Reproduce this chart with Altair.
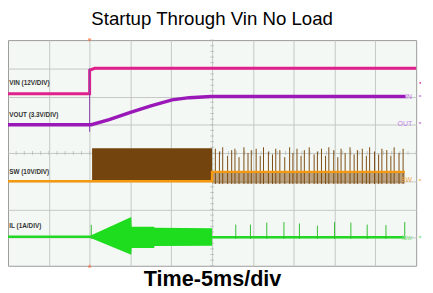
import altair as alt
import pandas as pd

TITLE = "Startup Through Vin No Load"
XLABEL = "Time-5ms/div"

# time in ms (5 ms/div, trigger at 0); vertical in screen divisions (0..8)
grid_t = [-5, 0, 5, 10, 15, 20, 25, 30, 35]
grid_d = [1, 2, 3, 4, 5, 6, 7]

vin_t = [-10, 0, 0, 0.6, 40]
vin_y = [6.1, 6.1, 6.93, 7.0, 7.0]

vout_t = [-10, 0.2, 2.4, 5.0, 7.5, 10.1, 12.2, 14.9, 25.0, 38.7]
vout_y = [5.0, 5.0, 5.18, 5.44, 5.67, 5.88, 5.96, 6.0, 6.0, 6.0]

edge_t = [0]
edge_lo = [4.75]
edge_hi = [7.0]

sw_t = [-10, 15.0, 15.0, 38.6]
sw_y = [3.0, 3.0, 3.33, 3.33]
burst_t = [0.3, 15.0]
burst_lo = [3.0, 3.0]
burst_hi = [4.17, 4.17]
ripple_t = [15.0, 38.6]
ripple_lo = [2.92, 2.92]
ripple_hi = [3.36, 3.36]
sw_spike_t = [15.4, 15.9, 16.3, 16.9, 17.4, 17.8, 18.3, 18.9, 19.4, 19.8, 20.4, 20.9,
              21.3, 21.9, 22.4, 22.8, 23.3, 23.9, 24.5, 24.9, 25.4, 25.9, 26.3, 26.9,
              27.5, 27.9, 28.4, 28.9, 29.3, 29.9, 30.4, 30.8, 31.3, 31.9, 32.4, 32.8,
              33.4, 33.9, 34.3, 34.9, 35.4, 35.8, 36.4, 36.9, 37.3, 37.9, 38.4]
sw_spike_top = [4.15, 4.05, 4.2, 3.9, 4.1, 4.15, 3.85, 4.2, 4.0, 4.1, 4.15, 3.9,
                4.2, 4.05, 3.95, 4.15, 4.1, 3.85, 4.2, 4.0, 4.15, 3.9, 4.1, 4.2,
                3.95, 4.05, 4.15, 3.9, 4.2, 4.1, 3.85, 4.15, 4.0, 4.2, 3.95, 4.1,
                4.15, 3.9, 4.2, 4.05, 3.95, 4.15, 4.1, 3.9, 4.2, 4.0, 4.15]

il_t = [-10, 0.2]
il_y = [1.03, 1.03]
il_t2 = [15.0, 38.5]
il_y2 = [1.01, 1.01]
env_t = [0.2, 5.1, 5.15, 7.9, 7.95, 15.0]
env_hi = [1.08, 1.73, 1.38, 1.38, 1.35, 1.33]
env_lo = [0.98, 0.39, 0.63, 0.63, 0.70, 0.71]
il_spike_t = [0.2, 17.9, 19.7, 21.7, 23.8, 25.7, 27.9, 30.0, 32.0, 34.0, 36.3, 38.6]
il_spike_top = [1.45, 1.46, 1.46, 1.53, 1.55, 1.50, 1.42, 1.55, 1.53, 1.46, 1.44, 1.55]

left_labels = ["VIN (12V/DIV)", "VOUT (3.3V/DIV)", "SW (10V/DIV)", "IL (1A/DIV)"]
left_label_y = [6.48, 5.35, 3.31, 1.42]

right_labels = ["IN", "OUT", "SW", "Isw"]
right_label_y = [5.98, 5.04, 3.03, 1.0]
right_label_color = ["#c070e0", "#c080e8", "#f0a848", "#88e088"]

marker_y = [6.48, 5.98, 5.04, 3.0, 1.0]
marker_color = ["#e0208c", "#a030c0", "#a030c0", "#f09010", "#30d030"]
marker_text = ["•", "*", "*", "*", "*"]

xs = alt.Scale(domain=[-10, 40], nice=False, zero=False)
ys = alt.Scale(domain=[0, 8], nice=False, zero=False)
xaxis = alt.Axis(values=grid_t, grid=True, labels=False, ticks=False, domain=False,
                 title=XLABEL, titleFont="Liberation Sans", titleFontSize=22,
                 titleFontWeight="bold", titleColor="#000000", titlePadding=3,
                 gridColor="#c4c8c4", gridWidth=1)
yaxis = alt.Axis(values=grid_d, grid=True, labels=False, ticks=False, domain=False,
                 title=None, gridColor="#c4c8c4", gridWidth=1)


def X(f="t"):
    return alt.X(f"{f}:Q", scale=xs, axis=xaxis)


def Y(f="y"):
    return alt.Y(f"{f}:Q", scale=ys, axis=yaxis)


def line_df(t, y):
    return pd.DataFrame({"t": t, "y": y, "i": list(range(len(t)))})


def line(t, y, color, w):
    return alt.Chart(line_df(t, y)).mark_line(color=color, strokeWidth=w).encode(
        x=X(), y=Y(), order="i:Q")


def band(t, lo, hi, color, opacity=1.0):
    return alt.Chart(pd.DataFrame({"t": t, "y": lo, "y2": hi})).mark_area(
        color=color, opacity=opacity).encode(x=X(), y=Y(), y2="y2:Q")


# center-line minor ticks
ct_t = [v / 1.0 for v in range(-10, 41)]
ct_d = [v / 5.0 for v in range(0, 41)]
hticks = alt.Chart(pd.DataFrame({"t": ct_t, "y": [4.0] * len(ct_t)})).mark_tick(
    orient="vertical", size=4, thickness=1, color="#b0b4b0").encode(x=X(), y=Y())
vticks = alt.Chart(pd.DataFrame({"t": [15.0] * len(ct_d), "y": ct_d})).mark_tick(
    orient="horizontal", size=4, thickness=1, color="#b0b4b0").encode(x=X(), y=Y())

vin = line(vin_t, vin_y, "#e0208c", 3)
vout = line(vout_t, vout_y, "#9a18b8", 3.5)
edge = alt.Chart(pd.DataFrame({"t": edge_t, "y": edge_lo, "y2": edge_hi})).mark_rule(
    color="#8a40a8", strokeWidth=1).encode(x=X(), y=Y(), y2="y2:Q")

burst = band(burst_t, burst_lo, burst_hi, "#74440e")
ripple = band(ripple_t, ripple_lo, ripple_hi, "#8a5a20", 0.55)
sw_spikes = alt.Chart(pd.DataFrame({"t": sw_spike_t, "y": [2.9] * len(sw_spike_t),
                                    "y2": sw_spike_top})).mark_rule(
    color="#7a4a10", strokeWidth=1).encode(x=X(), y=Y(), y2="y2:Q")
sw = line(sw_t, sw_y, "#f59a10", 2.5)

il_env = band(env_t, env_lo, env_hi, "#1edc1e")
il1 = line(il_t, il_y, "#22d822", 2.5)
il2 = line(il_t2, il_y2, "#22d822", 2.5)
il_spikes = alt.Chart(pd.DataFrame({"t": il_spike_t, "y": [0.95] * len(il_spike_t),
                                    "y2": il_spike_top})).mark_rule(
    color="#30c030", strokeWidth=1).encode(x=X(), y=Y(), y2="y2:Q")

trig = alt.Chart(pd.DataFrame({"t": [0, 0], "y": [8, 0],
                               "s": ["triangle-down", "triangle-up"]})).mark_point(
    filled=True, size=14, color="#ff5a1e", clip=False).encode(
    x=X(), y=Y(), shape=alt.Shape("s:N", scale=None))

ltext = alt.Chart(pd.DataFrame({"t": [-9.85] * 4, "y": left_label_y, "s": left_labels})).mark_text(
    align="left", baseline="middle", font="Liberation Sans", fontSize=6.5,
    fontWeight="bold", color="#333333").encode(x=X(), y=Y(), text="s:N")

rtext = alt.Chart(pd.DataFrame({"t": [39.5] * 4, "y": right_label_y, "s": right_labels,
                                "c": right_label_color})).mark_text(
    align="right", baseline="middle", font="Liberation Sans", fontSize=7).encode(
    x=X(), y=Y(), text="s:N", color=alt.Color("c:N", scale=None))

marks = alt.Chart(pd.DataFrame({"t": [40.3] * 5, "y": marker_y, "c": marker_color,
                                "s": marker_text})).mark_text(
    align="left", baseline="middle", font="DejaVu Sans", fontSize=6, clip=False).encode(
    x=X(), y=Y(), text="s:N", color=alt.Color("c:N", scale=None))

chart = alt.layer(
    hticks, vticks, burst, ripple, sw_spikes, sw, il_env, il1, il2, il_spikes,
    vin, edge, vout, trig, ltext, rtext, marks
).properties(
    width=416, height=230,
    title=alt.TitleParams(TITLE, font="Liberation Sans", fontSize=19, fontWeight="normal",
                          color="#000000", anchor="middle", offset=10),
    autosize=alt.AutoSizeParams(type="none"),
    padding={"left": 0, "top": 30, "right": 9, "bottom": 25},
).configure_view(fill="#f4f8f4", stroke="#9a9a9a", strokeWidth=1)

chart.save("out.html", embed_options={"renderer": "svg", "actions": False})
